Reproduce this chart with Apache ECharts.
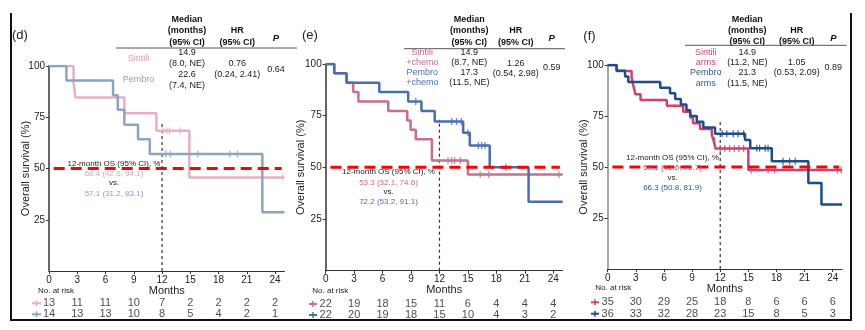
<!DOCTYPE html>
<html><head><meta charset="utf-8">
<script src="https://cdn.jsdelivr.net/npm/echarts@6/dist/echarts.min.js"></script>
<style>html,body{margin:0;padding:0;background:#fff}#c{width:865px;height:330px}</style>
</head><body><div id="c"></div>
<script>
// ---------- shared ticks ----------
const monthTicks = [0, 3, 6, 9, 12, 15, 18, 21, 24];
const survTicks = [25, 50, 75, 100];
const refLineX = [0.5, 24.7];
const refLineY = [50, 50];
const landmarkX = [12, 12];
const landmarkY = [0, 73];

// ---------- panel (d) ----------
const dSinTime   = [0, 2.6, 2.8, 8.0, 11.4, 14.9, 25];
const dSinSurv   = [100, 92.3, 84.6, 76.9, 68.4, 45.6, 45.6];
const dSinCensor = [12.1, 12.5, 12.8, 13.9, 24.8];
const dPemTime   = [0, 1.85, 6.8, 7.3, 8.0, 9.45, 10.7, 22.65, 25];
const dPemSurv   = [100, 92.9, 85.7, 78.6, 71.4, 64.3, 57.1, 28.6, 28.6];
const dPemCensor = [12.4, 12.9, 15.8, 19.2, 20.0];
const dRiskSin   = [13, 11, 11, 10, 7, 2, 2, 2, 2];
const dRiskPem   = [14, 13, 13, 10, 8, 5, 4, 2, 1];

// ---------- panel (e) ----------
const eSinTime   = [0, 0.9, 2.2, 2.9, 3.45, 6.6, 8.6, 8.95, 9.5, 11.2, 15.0, 25];
const eSinSurv   = [100, 95.5, 90.9, 86.4, 81.8, 77.3, 72.7, 68.2, 63.6, 53.3, 46.6, 46.6];
const eSinCensor = [12.9, 13.3, 13.6, 14.2, 16.3, 17.2, 24.6];
const ePemTime   = [0, 0.9, 2.2, 5.65, 8.7, 10.1, 11.5, 14.5, 15.2, 17.3, 21.4, 25];
const ePemSurv   = [100, 95.5, 90.9, 86.4, 81.8, 77.3, 72.2, 66.7, 60.6, 50.0, 33.3, 33.3];
const ePemCensor = [9.5, 13.3, 13.8, 14.3, 15.0, 16.1, 16.45, 16.8, 19.0];
const eRiskSin   = [22, 19, 18, 15, 11, 6, 4, 4, 4];
const eRiskPem   = [22, 20, 19, 18, 15, 10, 4, 3, 2];

// ---------- panel (f) ----------
const fSinTime   = [0, 0.95, 2.55, 2.65, 2.8, 2.95, 3.5, 6.3, 8.05, 8.8, 9.1, 9.85, 11.1, 11.3, 11.5, 15.0, 25];
const fSinSurv   = [100, 97.1, 94.3, 91.4, 88.6, 85.7, 82.9, 80.0, 77.1, 74.3, 71.4, 68.6, 65.7, 62.9, 59.1, 48.5, 48.5];
const fSinCensor = [11.4, 12.0, 12.5, 13.0, 13.5, 14.0, 14.5, 15.3, 17.1, 17.8, 24.5, 24.9];
const fPemTime   = [0, 0.95, 1.85, 2.2, 5.6, 6.65, 7.2, 7.8, 8.4, 8.8, 9.5, 10.2, 11.45, 14.65, 15.2, 17.5, 21.4, 22.8, 25];
const fPemSurv   = [100, 97.2, 94.4, 91.7, 88.9, 86.1, 83.3, 80.6, 77.8, 75.0, 72.2, 69.4, 66.3, 63.2, 59.2, 52.8, 42.2, 31.6, 31.6];
const fPemCensor = [12.2, 12.7, 13.4, 13.9, 14.5, 15.9, 16.2, 16.8, 17.1, 18.7, 19.4, 20.0];
const fRiskSin   = [35, 30, 29, 25, 18, 8, 6, 6, 6];
const fRiskPem   = [36, 33, 32, 28, 23, 15, 8, 5, 3];

// ---------- text content ----------
const tableHeadMedian = ['Median', '(months)', '(95% CI)'];
const tableHeadHR = ['HR', '(95% CI)'];
const dText = { label:'(d)', sin:['Sintili'], pem:['Pembro'], med:['14.9','(8.0, NE)','22.6','(7.4, NE)'], hr:['0.76','(0.24, 2.41)'], p:'0.64', os:['68.4 (42.6, 94.1)','57.1 (31.2, 83.1)'] };
const eText = { label:'(e)', sin:['Sintili','+chemo'], pem:['Pembro','+chemo'], med:['14.9','(8.7, NE)','17.3','(11.5, NE)'], hr:['1.26','(0.54, 2.98)'], p:'0.59', os:['53.3 (32.1, 74.6)','72.2 (53.2, 91.1)'] };
const fText = { label:'(f)', sin:['Sintili','arms'], pem:['Pembro','arms'], med:['14.9','(11.2, NE)','21.3','(11.5, NE)'], hr:['1.05','(0.53, 2.09)'], p:'0.89', os:['59.1 (42.6, 75.7)','66.3 (50.8, 81.9)'] };

// ---------- layout / styles ----------
const FF = '"Liberation Sans", Arial, sans-serif';
const panels = [
  { txt:dText, g:{left:49, top:66, width:235.5, height:205}, risk:{top:297.8, h:22}, yCol:'#333', yGap:17.5,
    sin:{t:dSinTime,s:dSinSurv,c:dSinCensor,r:dRiskSin,color:'#E6B0C2',tcol:'#E59DB6'},
    pem:{t:dPemTime,s:dPemSurv,c:dPemCensor,r:dRiskPem,color:'#8CA5BF',tcol:'#8AA3BE'},
    lay:{lab:[12,35], med:187, hr:237.3, p:276, rule:[116,297,48], nm:138.5, hy:[20,31,42.5],
         rows:[53,64,75,86], hrRows:[64,75], pY:70, nmSin:[59], nmPem:[80],
         os:{x:114, y:[163.3,173.3,182.7,193.3]}, nar:[56,290.7], sym:[32,41], risk:[303.3,314.3]} },
  { txt:eText, g:{left:325.7, top:64, width:237, height:206.7}, risk:{top:298.5, h:22}, yCol:'#333', yGap:19,
    sin:{t:eSinTime,s:eSinSurv,c:eSinCensor,r:eRiskSin,color:'#C96E8E',tcol:'#C9688A'},
    pem:{t:ePemTime,s:ePemSurv,c:ePemCensor,r:eRiskPem,color:'#4A6DAF',tcol:'#4C6FB0'},
    lay:{lab:[302,35], med:469.3, hr:515.7, p:551.7, rule:[404,565,48.7], nm:422.3, hy:[20,31,42.5],
         rows:[53,62.3,73,83], hrRows:[64,73.3], pY:68, nmSin:[53,62.3], nmPem:[73,83],
         os:{x:388.5, y:[171.7,182.3,191.7,201.7]}, nar:[330.3,291], sym:[309,317], risk:[304,315]} },
  { txt:fText, g:{left:607.7, top:65, width:234.4, height:204}, risk:{top:296.6, h:22.8}, yCol:'#888', yGap:18,
    sin:{t:fSinTime,s:fSinSurv,c:fSinCensor,r:fRiskSin,color:'#D43E72',tcol:'#D43E72'},
    pem:{t:fPemTime,s:fPemSurv,c:fPemCensor,r:fRiskPem,color:'#1C4E8B',tcol:'#2A5A94'},
    lay:{lab:[583.3,36], med:747.3, hr:796.7, p:833.3, rule:[685,846.7,45.3], nm:705.7, hy:[20,31,41.5],
         rows:[52.3,62.7,73,84], hrRows:[62.7,73], pY:68, nmSin:[52.3,62.7], nmPem:[73,84],
         os:{x:672.5, y:[157.3,167.3,177.3,187.3]}, nar:[613.3,287.3], sym:[591,599], risk:[302.3,313.7]} }
];

function survAt(T, S, t) { let v = S[0]; for (let i = 0; i < T.length; i++) if (T[i] <= t) v = S[i]; return v; }
function zip(A, B) { return A.map((a, i) => [a, B[i]]); }
function txt(x, y, s, fill, font, align) {
  return { type:'text', x:x, y:y, silent:true, z:20,
    style:{ text:s, fill:fill||'#222', font:font||('9px ' + FF),
      textAlign:align||'center', align:align||'center', textVerticalAlign:'middle', verticalAlign:'middle' } };
}
function hline(x1, x2, y, color, w) {
  return { type:'line', silent:true, z:20, shape:{x1:x1,y1:y,x2:x2,y2:y}, style:{stroke:color, lineWidth:w} };
}
function vline(x, y1, y2, color, w) {
  return { type:'line', silent:true, z:20, shape:{x1:x,y1:y1,x2:x,y2:y2}, style:{stroke:color, lineWidth:w} };
}

const grids = [], xAxes = [], yAxes = [], series = [], graphics = [];
panels.forEach((p) => {
  const gi = grids.length;
  grids.push({ left:p.g.left, top:p.g.top, width:p.g.width, height:p.g.height });
  xAxes.push({ gridIndex:gi, type:'value', min:0, max:25, interval:3,
    name:'Months', nameLocation:'middle', nameGap:14, nameMoveOverlap:false,
    nameTextStyle:{ fontSize:11, color:'#222', fontFamily:FF },
    axisLine:{ lineStyle:{ color:'#333', width:1.2 } },
    axisTick:{ length:3, lineStyle:{ color:'#333' }, customValues:monthTicks },
    axisLabel:{ fontSize:10, color:'#222', margin:4, fontFamily:FF, customValues:monthTicks },
    splitLine:{ show:false } });
  yAxes.push({ gridIndex:gi, type:'value', min:0, max:100, interval:25,
    name:'Overall survival (%)', nameLocation:'middle', nameGap:p.yGap, nameRotate:90, nameMoveOverlap:false,
    nameTextStyle:{ fontSize:11, color:'#222', fontFamily:FF },
    axisLine:{ show:true, lineStyle:{ color:p.yCol, width:1.5 } },
    axisTick:{ show:true, length:3, lineStyle:{ color:'#333' }, customValues:survTicks },
    axisLabel:{ fontSize:10, color:'#222', margin:4, fontFamily:FF, customValues:survTicks },
    splitLine:{ show:false } });

  [p.sin, p.pem].forEach((a) => {
    series.push({ type:'line', xAxisIndex:gi, yAxisIndex:gi, step:'end', symbol:'none',
      data:zip(a.t, a.s), lineStyle:{ color:a.color, width:2.5 }, z:3, silent:true });
    series.push({ type:'scatter', xAxisIndex:gi, yAxisIndex:gi, symbol:'rect', symbolSize:[1.3, 7],
      data:a.c.map(t => [t, survAt(a.t, a.s, t)]), itemStyle:{ color:a.color }, z:4, silent:true });
  });
  series.push({ type:'line', xAxisIndex:gi, yAxisIndex:gi, symbol:'none', data:zip(landmarkX, landmarkY),
    lineStyle:{ color:'#333', width:1.2, type:[3, 3] }, z:2, silent:true });
  series.push({ type:'line', xAxisIndex:gi, yAxisIndex:gi, symbol:'none', data:zip(refLineX, refLineY),
    lineStyle:{ color:'#FF0000', width:3, type:[11, 6] }, z:6, silent:true });

  // risk table grid
  const ri = grids.length;
  grids.push({ left:p.g.left, top:p.risk.top, width:p.g.width, height:p.risk.h });
  xAxes.push({ gridIndex:ri, type:'value', min:0, max:25, show:false });
  yAxes.push({ gridIndex:ri, type:'category', data:['sin','pem'], inverse:true, show:false });
  [['sin', p.sin.r], ['pem', p.pem.r]].forEach(([row, arr]) => {
    series.push({ type:'scatter', xAxisIndex:ri, yAxisIndex:ri, symbolSize:1, silent:true,
      itemStyle:{ color:'transparent' },
      data:monthTicks.map((m, i) => [m, row, arr[i]]),
      label:{ show:true, position:'inside', formatter:(q) => String(q.value[2]),
        fontSize:11, color:'#222', fontFamily:FF } });
  });

  // texts
  const L = p.lay, T = p.txt;
  graphics.push(txt(L.lab[0], L.lab[1], T.label, '#222', '13px ' + FF, 'left'));
  const bold = 'bold 9px ' + FF;
  tableHeadMedian.forEach((s, i) => graphics.push(txt(L.med, L.hy[i], s, '#111', bold)));
  tableHeadHR.forEach((s, i) => graphics.push(txt(L.hr, L.hy[i + 1], s, '#111', bold)));
  graphics.push(txt(L.p, 38, 'P', '#111', 'italic bold 9.5px ' + FF));
  graphics.push(hline(L.rule[0], L.rule[1], L.rule[2], '#555', 1));
  T.sin.forEach((s, i) => graphics.push(txt(L.nm, L.nmSin[i], s, p.sin.tcol, '9px ' + FF)));
  T.pem.forEach((s, i) => graphics.push(txt(L.nm, L.nmPem[i], s, p.pem.tcol, '9px ' + FF)));
  T.med.forEach((s, i) => graphics.push(txt(L.med, L.rows[i], s, '#222', '9px ' + FF)));
  T.hr.forEach((s, i) => graphics.push(txt(L.hr, L.hrRows[i], s, '#222', '9px ' + FF)));
  graphics.push(txt(L.p, L.pY, T.p, '#222', '9px ' + FF));
  graphics.push(txt(L.os.x, L.os.y[0], '12-month OS (95% CI), %', '#222', '8px ' + FF));
  graphics.push(txt(L.os.x, L.os.y[1], T.os[0], p.sin.tcol, '8px ' + FF));
  graphics.push(txt(L.os.x, L.os.y[2], 'vs.', '#222', '8px ' + FF));
  graphics.push(txt(L.os.x, L.os.y[3], T.os[1], p.pem.tcol, '8px ' + FF));
  graphics.push(txt(L.nar[0], L.nar[1], 'No. at risk', '#222', '8px ' + FF));
  [[p.sin.color, L.risk[0]], [p.pem.color, L.risk[1]]].forEach(([c, y]) => {
    graphics.push(hline(L.sym[0], L.sym[1], y, c, 2));
    graphics.push(vline((L.sym[0] + L.sym[1]) / 2, y - 3, y + 3, c, 1.5));
  });
});

// outer frame
graphics.push(vline(11, 13, 321, '#111', 2));
graphics.push(hline(10, 852, 320, '#111', 2));
graphics.push(vline(851, 13, 321, '#111', 2));

const chart = echarts.init(document.getElementById('c'), null, { renderer:'canvas' });
chart.setOption({
  animation:false, backgroundColor:'#fff',
  grid:grids, xAxis:xAxes, yAxis:yAxes, series:series, graphic:graphics
});
</script></body></html>
